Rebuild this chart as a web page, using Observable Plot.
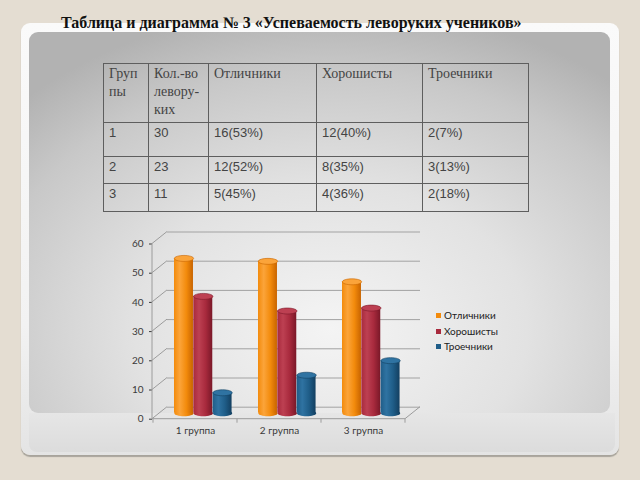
<!DOCTYPE html>
<html>
<head>
<meta charset="utf-8">
<script src="https://cdn.jsdelivr.net/npm/d3@7"></script>
<script src="https://cdn.jsdelivr.net/npm/@observablehq/plot@0.6"></script>
<style>
  html, body { margin: 0; padding: 0; }
  body { width: 640px; height: 480px; background: #e4ddd2; position: relative; overflow: hidden; font-family: "Liberation Sans", Arial, sans-serif; }
  #card { position: absolute; left: 21px; top: 23px; width: 598px; height: 432px; border-radius: 9px;
          background: linear-gradient(to bottom, #fafafa 0%, #f2f2f2 70%, #e4e4e4 100%);
          box-shadow: 0 2px 1px #a8a49c; }
  #panel { position: absolute; left: 29px; top: 32px; width: 581px; height: 381px; border-radius: 9px;
           background: radial-gradient(ellipse 75% 85% at 52% 78%, #f4f4f4 0%, #e2e2e2 45%, #c8c8c8 80%, #b2b2b2 100%); }
  #strip { position: absolute; left: 29px; top: 413px; width: 586px; height: 39px; border-radius: 0 0 8px 8px;
           background: linear-gradient(to bottom, #e6e6e6, #dcdcdc); }
  #title { position: absolute; left: 61px; top: 14px; font: bold 16px "Liberation Serif", "Times New Roman", serif; color: #111; white-space: nowrap; }
  table { position: absolute; left: 103px; top: 63px; border-collapse: collapse; table-layout: fixed; width: 425px; color: #444; }
  td { border: 1px solid #5e5e5e; vertical-align: top; padding: 1px 5px; font-size: 13px; line-height: 18px; }
  tr.head td { font-family: "Liberation Serif", "Times New Roman", serif; font-size: 14px; height: 56px; }
  #chart { position: absolute; left: 110px; top: 225px; }
  #legend { position: absolute; left: 436px; top: 308px; font: 10px Lato, "Liberation Sans", sans-serif; color: #222; }
  #legend div { height: 15.5px; line-height: 15.5px; white-space: nowrap; }
  #legend span.sw { display: inline-block; width: 5px; height: 5px; margin-right: 3px; vertical-align: 1px; }
</style>
</head>
<body>
<div id="card"></div>
<div id="strip"></div>
<div id="panel"></div>
<div id="title"></div>
<table id="tbl"></table>
<div id="chart"></div>
<div id="legend"></div>
<script>
// ---- data ----
const titleText = "Таблица и диаграмма № 3 «Успеваемость леворуких учеников»";
const tableHead = ["Груп\nпы", "Кол.-во\nлевору-\nких", "Отличники", "Хорошисты", "Троечники"];
const groupNums = ["1", "2", "3"];
const leftHanded = [30, 23, 11];
const otlCount = [16, 12, 5];
const horCount = [12, 8, 4];
const troCount = [2, 3, 2];
const groups = ["1 группа", "2 группа", "3 группа"];
const series = ["Отличники", "Хорошисты", "Троечники"];
const otlPct = [53, 52, 45];
const horPct = [40, 35, 36];
const troPct = [7, 13, 18];
const yTicks = [0, 10, 20, 30, 40, 50, 60];
const colors = ["#f38b0c", "#a82a3d", "#1f5d88"];
const lightColors = ["#fba43a", "#bd4052", "#2f73a2"];
const darkColors = ["#c86400", "#7a1828", "#133f60"];

// ---- title & table ----
document.getElementById("title").textContent = titleText;
const tbl = document.getElementById("tbl");
const counts = [otlCount, horCount, troCount];
const pcts = [otlPct, horPct, troPct];
const rowHeights = [34, 27, 28];
let html = '<colgroup><col style="width:45px"><col style="width:60px"><col style="width:108px"><col style="width:106px"><col style="width:106px"></colgroup>';
html += '<tr class="head">' + tableHead.map(h => `<td>${h.replace(/\n/g, "<br>")}</td>`).join("") + "</tr>";
groupNums.forEach((g, i) => {
  html += `<tr style="height:${rowHeights[i]}px"><td>${g}</td><td>${leftHanded[i]}</td>` +
    counts.map((c, j) => `<td>${c[i]}(${pcts[j][i]}%)</td>`).join("") + "</tr>";
});
tbl.innerHTML = html;

// ---- legend ----
document.getElementById("legend").innerHTML = series.map((s, j) =>
  `<div><span class="sw" style="background:${colors[j]}"></span>${s}</div>`).join("");

// ---- chart ----
const rows = groups.flatMap((g, i) => series.map((s, j) => ({group: g, series: s, j, value: pcts[j][i]})));
const depthX = 15, depthY = -12;       // 3D depth of the back wall
const midX = depthX / 2, midY = depthY / 2;
const bandW = (405 - 152) / 3;
const barW = 19.3, lead = 13.5;
const ellipse = {
  draw(ctx, size) {
    const rx = Math.sqrt(size / Math.PI), ry = rx * 0.31, k = 0.5523;
    ctx.moveTo(rx, 0);
    ctx.bezierCurveTo(rx, ry * k, rx * k, ry, 0, ry);
    ctx.bezierCurveTo(-rx * k, ry, -rx, ry * k, -rx, 0);
    ctx.bezierCurveTo(-rx, -ry * k, -rx * k, -ry, 0, -ry);
    ctx.bezierCurveTo(rx * k, -ry, rx, -ry * k, rx, 0);
    ctx.closePath();
  }
};

const defsMark = () => {
  const defs = d3.create("svg:defs");
  colors.forEach((c, j) => {
    const g = defs.append("linearGradient").attr("id", "cyl" + j).attr("x1", 0).attr("x2", 1).attr("y1", 0).attr("y2", 0);
    g.append("stop").attr("offset", "0%").attr("stop-color", colors[j]);
    g.append("stop").attr("offset", "30%").attr("stop-color", lightColors[j]);
    g.append("stop").attr("offset", "65%").attr("stop-color", colors[j]);
    g.append("stop").attr("offset", "100%").attr("stop-color", darkColors[j]);
  });
  return defs.node();
};

const frameMark = (index, scales, values, dims) => {
  const y = scales.y, x = scales.x;
  const left = dims.marginLeft, right = dims.width - dims.marginRight;
  const g = d3.create("svg:g").attr("stroke", "#9c9c9c").attr("fill", "none").attr("stroke-width", 1);
  g.append("line").attr("x1", left).attr("x2", left).attr("y1", y(0)).attr("y2", y(60));
  yTicks.forEach(t => g.append("line").attr("x1", left).attr("y1", y(t)).attr("x2", left + depthX).attr("y2", y(t) + depthY));
  g.append("line").attr("x1", left).attr("x2", right).attr("y1", y(0)).attr("y2", y(0));
  g.append("line").attr("x1", right).attr("y1", y(0)).attr("x2", right + depthX).attr("y2", y(0) + depthY);
  const edges = groups.map(gr => x(gr)).concat([right]);
  edges.forEach(e => g.append("line").attr("x1", e).attr("x2", e).attr("y1", y(0)).attr("y2", y(0) + 4));
  return g.node();
};

const barMarks = series.flatMap((s, j) => {
  const data = rows.filter(d => d.j === j);
  const inL = lead + j * barW, inR = bandW - lead - (j + 1) * barW;
  const cdx = -bandW / 2 + lead + (j + 0.5) * barW + midX;
  return [
    Plot.dot(data, {x: "group", y: () => 0, r: barW / 2, symbol: ellipse, fill: `url(#cyl${j})`, stroke: "none", dx: cdx, dy: midY}),
    Plot.barY(data, {x: "group", y: "value", fill: `url(#cyl${j})`, insetLeft: inL, insetRight: inR, dx: midX, dy: midY}),
    Plot.dot(data, {x: "group", y: "value", r: barW / 2, symbol: ellipse, fill: lightColors[j], stroke: darkColors[j], strokeWidth: 0.6, dx: cdx, dy: midY})
  ];
});

const chart = Plot.plot({
  width: 330, height: 220,
  marginLeft: 42, marginRight: 35, marginTop: 18.5, marginBottom: 26.3,
  style: {background: "transparent", fontFamily: "Lato, 'Liberation Sans', sans-serif", fontSize: "10px", color: "#3a3a3a", overflow: "visible"},
  x: {type: "band", domain: groups, padding: 0, label: null, tickSize: 0, tickPadding: 8},
  y: {domain: [0, 60], ticks: 6, label: null, tickSize: 3, tickPadding: 6},
  marks: [
    defsMark,
    Plot.ruleY(yTicks, {stroke: "#a2a2a2", dx: depthX, dy: depthY}),
    frameMark,
    ...barMarks
  ]
});
document.getElementById("chart").appendChild(chart);
</script>
</body>
</html>
